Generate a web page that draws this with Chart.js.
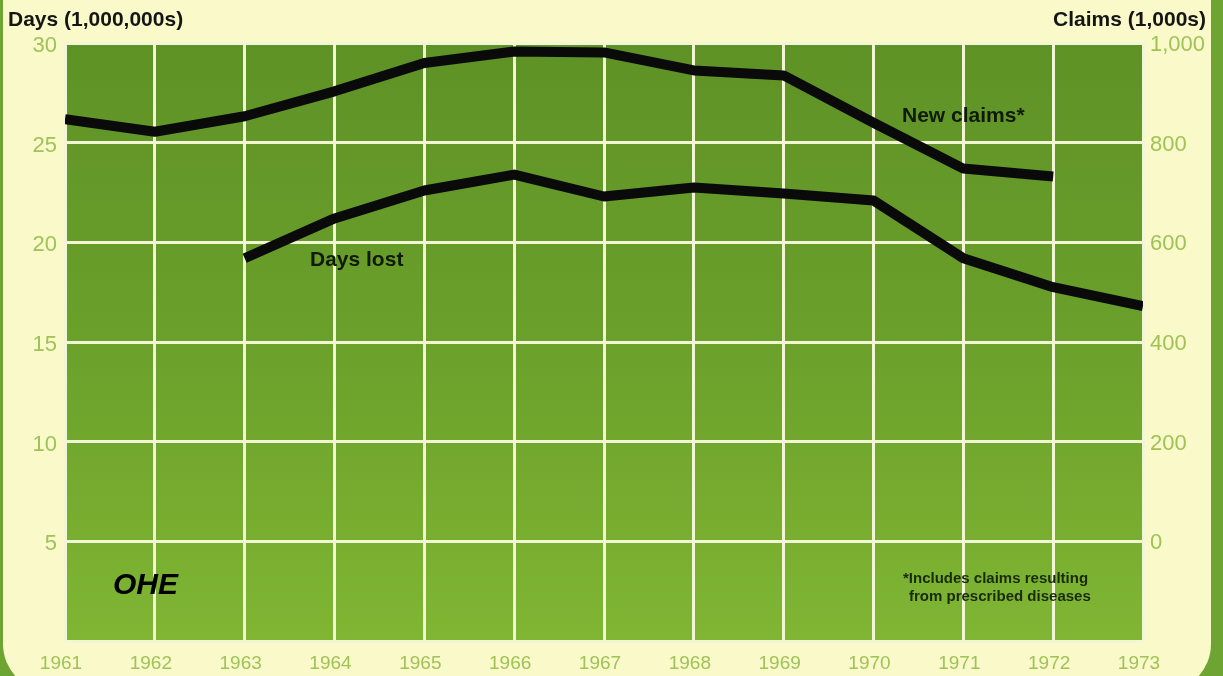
<!DOCTYPE html>
<html>
<head>
<meta charset="utf-8">
<script src="https://cdn.jsdelivr.net/npm/chart.js@4"></script>
<style>
  html, body { margin: 0; padding: 0; }
  body {
    width: 1223px; height: 676px; overflow: hidden;
    background: #6ea532; position: relative;
    font-family: "Liberation Sans", Arial, sans-serif;
  }
  .paper {
    position: absolute; left: 3px; right: 12px; top: 0; height: 692px;
    background: #f9f9c9; border-radius: 0 0 48px 48px;
  }
  canvas { position: absolute; left: 0; top: 0; }
</style>
</head>
<body>
<div class="paper"></div>
<canvas id="chart" width="1223" height="676"></canvas>
<script>
// years on the x axis
const years = [1961, 1962, 1963, 1964, 1965, 1966, 1967, 1968, 1969, 1970, 1971, 1972, 1973];
// days lost, millions (left axis)
const daysLost = [null, null, 19.2, 21.2, 22.6, 23.4, 22.3, 22.75, 22.45, 22.1, 19.2, 17.75, 16.8];
// new claims, thousands (right axis)
const newClaims = [847, 822, 853, 903, 960, 983, 981, 945, 935, 840, 748, 732, null];

const tickColor = '#a0c257';
const gridColor = '#f3f6d4';

function pts(vals) {
  const out = [];
  years.forEach((yr, i) => { if (vals[i] != null) out.push({x: yr, y: vals[i]}); });
  return out;
}

// green plot background plus the text written on the chart
const decor = {
  id: 'decor',
  beforeDraw(chart) {
    const {ctx, chartArea: a} = chart;
    const g = ctx.createLinearGradient(0, a.top, 0, a.bottom);
    g.addColorStop(0, '#5f9226');
    g.addColorStop(0.5, '#6ba02b');
    g.addColorStop(1, '#80b633');
    ctx.save();
    ctx.fillStyle = g;
    ctx.fillRect(a.left, a.top, a.right - a.left, a.bottom - a.top);
    ctx.restore();
  },
  afterDraw(chart) {
    const ctx = chart.ctx;
    ctx.save();
    ctx.fillStyle = '#151515';
    ctx.textBaseline = 'middle';
    ctx.font = 'bold 21px "Liberation Sans", Arial, sans-serif';
    ctx.textAlign = 'left';
    ctx.fillText('Days (1,000,000s)', 8, 20);
    ctx.textAlign = 'right';
    ctx.fillText('Claims (1,000s)', 1206, 20);

    ctx.fillStyle = '#101a08';
    ctx.textAlign = 'left';
    ctx.font = 'bold 21px "Liberation Sans", Arial, sans-serif';
    ctx.fillText('Days lost', 310, 260);
    ctx.fillText('New claims*', 902, 116);

    ctx.font = 'bold 15px "Liberation Sans", Arial, sans-serif';
    ctx.fillStyle = '#1a2a0c';
    ctx.fillText('*Includes claims resulting', 903, 579);
    ctx.fillText('from prescribed diseases', 909, 597);

    ctx.fillStyle = '#000';
    ctx.font = 'italic bold 30px "Liberation Sans", Arial, sans-serif';
    ctx.fillText('OHE', 113, 586);
    ctx.restore();
  }
};

const tickFont = size => ({ size: size, family: '"Liberation Sans", Arial, sans-serif' });

new Chart(document.getElementById('chart'), {
  type: 'line',
  data: {
    datasets: [
      {
        label: 'New claims',
        data: pts(newClaims),
        yAxisID: 'y1',
        borderColor: '#0a0a0a',
        borderWidth: 10,
        pointRadius: 0,
        tension: 0,
        borderJoinStyle: 'round',
        borderCapStyle: 'butt'
      },
      {
        label: 'Days lost',
        data: pts(daysLost),
        yAxisID: 'y',
        borderColor: '#0a0a0a',
        borderWidth: 10,
        pointRadius: 0,
        tension: 0,
        borderJoinStyle: 'round',
        borderCapStyle: 'butt'
      }
    ]
  },
  options: {
    responsive: false,
    animation: false,
    layout: { padding: { top: 43, left: 0, right: 0, bottom: 0 } },
    plugins: { legend: { display: false }, tooltip: { enabled: false } },
    scales: {
      x: {
        type: 'linear',
        min: 1961, max: 1973,
        border: { display: false },
        grid: { color: gridColor, lineWidth: 3, drawTicks: false },
        ticks: {
          stepSize: 1, color: tickColor, padding: 11, labelOffset: -4,
          font: tickFont(19),
          callback: v => String(v)
        },
        afterFit: s => { s.height = 35; }
      },
      y: {
        position: 'left',
        min: 0, max: 30,
        border: { display: false },
        grid: { color: gridColor, lineWidth: 3, drawTicks: false },
        ticks: {
          stepSize: 5, color: tickColor, padding: 8, labelOffset: 3,
          font: tickFont(22),
          callback: v => v === 0 ? '' : v
        },
        afterFit: s => { s.width = 65; }
      },
      y1: {
        position: 'right',
        min: -200, max: 1000,
        border: { display: false },
        grid: { display: false, drawTicks: false },
        ticks: {
          stepSize: 200, color: tickColor, padding: 7, labelOffset: 2,
          font: tickFont(22),
          callback: v => v < 0 ? '' : v.toLocaleString('en-US')
        },
        afterFit: s => { s.width = 80; }
      }
    }
  },
  plugins: [decor]
});
</script>
</body>
</html>
